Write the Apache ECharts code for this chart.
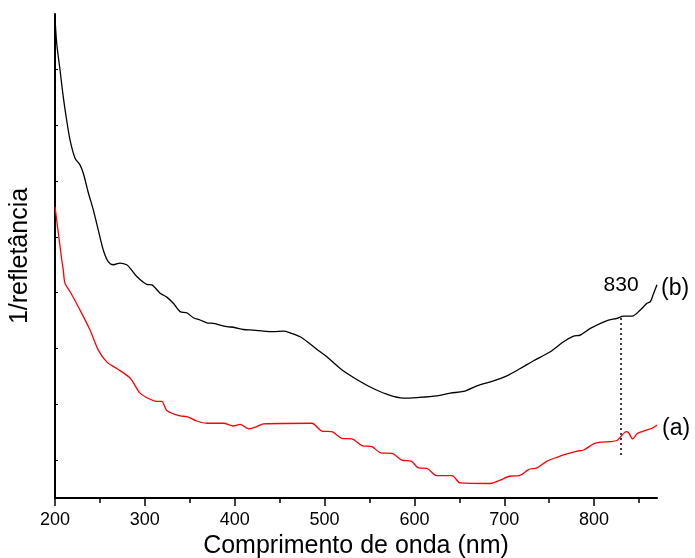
<!DOCTYPE html>
<html>
<head>
<meta charset="utf-8">
<script src="https://cdn.jsdelivr.net/npm/echarts@6/dist/echarts.min.js"></script>
<style>html,body{margin:0;padding:0;background:#fff;}#c{width:695px;height:558px;}</style>
</head>
<body>
<div id="c"></div>
<script>
// Curve (b) – black
var wavelengthB = [200,201.9,205.6,209.2,213.0,216.7,222.3,227.8,231.5,237.1,242.7,248.2,253.8,259.4,264.9,272.4,279.8,283.5,291.0,302.1,307.7,317.0,324.4,331.7,339.2,346.7,354.0,361.5,368.9,376.3,391.2,398.6,409.7,420.8,432.0,443.1,454.2,461.7,472.8,484.0,495.1,502.6,517.4,532.2,550.8,569.4,587.9,602.8,625.1,639.9,654.7,669.6,688.1,703.0,717.8,732.6,751.2,766.0,777.2,784.6,795.8,814.4,825.5,832.8,842.2,851.4,858.9,862.6,866.3,870];
var valuesB = [8.60,8.15,7.67,7.19,6.77,6.42,6.09,5.97,5.82,5.47,5.16,4.80,4.44,4.23,4.18,4.21,4.18,4.12,3.97,3.83,3.82,3.67,3.60,3.49,3.34,3.32,3.23,3.19,3.14,3.13,3.07,3.06,3.02,3.01,2.99,2.98,2.99,2.96,2.89,2.76,2.62,2.53,2.32,2.16,1.99,1.86,1.79,1.80,1.83,1.88,1.91,2.01,2.10,2.19,2.32,2.46,2.62,2.80,2.90,2.92,3.04,3.18,3.22,3.26,3.26,3.37,3.49,3.52,3.67,3.82];
// Curve (a) – red
var wavelengthA = [200,207.5,209.2,211.1,216.7,227.8,239.0,248.2,257.6,268.7,283.5,294.7,305.8,313.3,318.8,324.4,339.2,346.7,357.8,368.9,387.4,398.6,406.0,415.3,424.6,432.0,485.8,497.0,508.1,519.3,530.4,541.5,552.7,562.5,574.9,586.1,596.4,604.6,613.9,625.1,641.8,651.1,684.4,695.5,705.6,716.7,727.1,736.4,747.6,758.7,769.8,781.0,788.3,799.4,806.9,818.0,825.5,829.2,835.9,838.4,842.9,847.8,853.3,858.9,864.5,870];
var valuesA = [5.22,4.27,4.09,3.85,3.70,3.37,3.01,2.65,2.44,2.32,2.15,1.88,1.77,1.73,1.73,1.57,1.47,1.46,1.38,1.34,1.34,1.29,1.32,1.24,1.28,1.33,1.34,1.20,1.19,1.07,1.06,0.94,0.92,0.81,0.80,0.68,0.66,0.54,0.53,0.40,0.40,0.27,0.26,0.32,0.39,0.40,0.51,0.54,0.66,0.73,0.79,0.84,0.86,0.97,1.00,1.01,1.03,1.09,1.19,1.17,1.06,1.15,1.19,1.22,1.25,1.31];
// Axis ticks and labels
var xMajorTicks = [200,300,400,500,600,700,800];
var xMinorTicks = [250,350,450,550,650,750,850];
var yTicks = [0.68,1.68,2.68,3.68,4.68,5.68,6.68,7.68];
// Annotation: dotted marker at 830 nm
var markerX = 830;
var markerRange = [0.77, 3.26];
var markerText = '830';
var seriesNames = ['(b)', '(a)'];

function zip(xs, ys){ return xs.map(function(x,i){ return [x, ys[i]]; }); }

var FONT = '"Liberation Sans", Arial, sans-serif';
var chart = echarts.init(document.getElementById('c'), null, {renderer:'canvas'});
chart.setOption({
  animation: false,
  backgroundColor: '#fff',
  grid: {left: 55, right: 38, top: 14, bottom: 60, containLabel: false, outerBoundsMode: 'none'},
  xAxis: [{
    type: 'value', min: 200, max: 870,
    name: 'Comprimento de onda (nm)', nameLocation: 'middle', nameGap: 32,
    nameTextStyle: {fontFamily: FONT, fontSize: 25, color: '#000'},
    axisLine: {show: true, lineStyle: {color: '#000', width: 2}},
    axisTick: {show: true, inside: false, length: 8, lineStyle: {color: '#000', width: 1.5}, customValues: xMajorTicks},
    axisLabel: {show: true, margin: 13, fontFamily: FONT, fontSize: 18, color: '#000', customValues: xMajorTicks},
    splitLine: {show: false}
  },{
    type: 'value', min: 200, max: 870, position: 'bottom',
    axisLine: {show: false},
    axisTick: {show: true, inside: false, length: 5, lineStyle: {color: '#000', width: 1.5}, customValues: xMinorTicks},
    axisLabel: {show: false},
    splitLine: {show: false}
  }],
  yAxis: {
    type: 'value', min: 0, max: 8.674,
    name: '1/refletância', nameLocation: 'middle', nameGap: 22, nameRotate: 90,
    nameTextStyle: {fontFamily: FONT, fontSize: 25, color: '#000'},
    axisLine: {show: true, lineStyle: {color: '#000', width: 2}},
    axisTick: {show: true, inside: true, length: 3, lineStyle: {color: '#000', width: 1}, customValues: yTicks},
    axisLabel: {show: false},
    splitLine: {show: false}
  },
  series: [{
    name: seriesNames[0], type: 'line', xAxisIndex: 0, showSymbol: false, smooth: 0.3,
    data: zip(wavelengthB, valuesB),
    lineStyle: {color: '#000', width: 1.3},
    endLabel: {show: true, formatter: seriesNames[0], distance: 4, offset: [0, 4], fontFamily: FONT, fontSize: 23, color: '#000'},
    markLine: {
      silent: true, symbol: ['none','none'],
      lineStyle: {color: '#000', width: 1.5, type: [2,3]},
      label: {show: true, position: 'end', distance: 20, formatter: markerText, fontFamily: FONT, fontSize: 21, color: '#000'},
      data: [[{coord: [markerX, markerRange[0]]}, {coord: [markerX, markerRange[1]]}]]
    }
  },{
    name: seriesNames[1], type: 'line', xAxisIndex: 0, showSymbol: false, smooth: 0.3,
    data: zip(wavelengthA, valuesA),
    lineStyle: {color: '#ff0000', width: 1.3},
    endLabel: {show: true, formatter: seriesNames[1], distance: 5, offset: [0, 4], fontFamily: FONT, fontSize: 23, color: '#000'}
  }]
});
</script>
</body>
</html>
